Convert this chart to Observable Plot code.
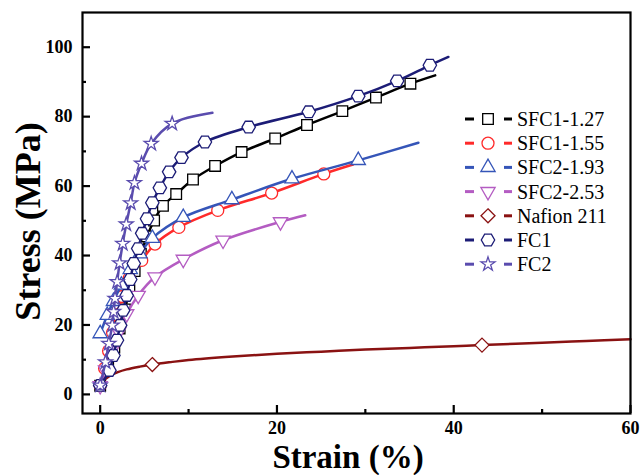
<!DOCTYPE html>
<html><head><meta charset="utf-8">
<script src="https://cdn.jsdelivr.net/npm/d3@7"></script>
<script src="https://cdn.jsdelivr.net/npm/@observablehq/plot@0.6"></script>
<style>body{margin:0;background:#fff}</style>
</head><body><div id="chart"></div>
<script>
// ---- data (strain %, stress MPa) ----
const seriesNames = ["SFC1-1.27", "SFC1-1.55", "SFC2-1.93", "SFC2-2.53", "Nafion 211", "FC1", "FC2"];
const seriesColors = ["#000000", "#ff2a2a", "#3555b8", "#b45cc2", "#8a1212", "#1c1c76", "#5a4cae"];
const xTitle = "Strain (%)";
const yTitle = "Stress (MPa)";

const sfc127Strain = [0, 0.9, 1.6, 2.2, 2.8, 3.3, 3.9, 4.6, 5.3, 6.1, 7.1, 8.6, 10.5, 13.0, 16.0, 19.8, 23.4, 27.4, 31.2, 35.1, 37.9];
const sfc127Stress = [2.5, 8, 13.5, 19, 24.5, 30, 35.5, 40.5, 45.5, 50.1, 54.3, 57.7, 61.9, 65.8, 69.8, 73.7, 77.6, 81.6, 85.5, 89.5, 91.9];

const sfc155Strain = [0, 0.5, 0.95, 1.4, 1.9, 2.5, 3.3, 4.7, 6.2, 8.9, 13.3, 19.4, 25.3, 28.6];
const sfc155Stress = [2.6, 7.5, 12.5, 17.8, 23, 28.2, 33.5, 38.6, 43.3, 48.1, 53.0, 58.0, 63.5, 66.2];

const sfc193Strain = [0, 0.8, 1.5, 2.4, 3.4, 4.5, 5.9, 9.4, 14.9, 21.7, 29.2, 36.0];
const sfc193Stress = [17.5, 22.8, 26.8, 31.5, 36, 40.5, 45, 51, 56.1, 62.1, 67.4, 72.5];

const sfc253Strain = [0, 0.6, 1.3, 2.1, 3.0, 4.3, 6.2, 9.4, 13.9, 20.4, 23.2];
const sfc253Stress = [2.5, 7, 12.5, 18, 23.2, 28.5, 33.8, 38.9, 44.4, 49.7, 51.6];

const nafionStrain = [0, 0.5, 1, 2, 3, 4.5, 5.9, 8, 10, 15, 20, 25, 30, 35, 40, 43.2, 50, 55, 60];
const nafionStress = [3, 4.3, 5.2, 6.4, 7.2, 8, 8.6, 9.3, 9.9, 10.9, 11.7, 12.3, 12.9, 13.4, 13.9, 14.2, 14.9, 15.4, 15.9];
const nafionMarkerIndex = [6, 15];

const fc1Strain = [0, 1.05, 1.5, 1.9, 2.26, 2.6, 3.0, 3.4, 3.8, 4.3, 4.75, 5.3, 5.9, 6.75, 7.8, 9.2, 11.85, 16.8, 23.6, 29.2, 33.6, 37.3, 39.4];
const fc1Stress = [2.6, 6.9, 11.2, 15.6, 19.9, 24.2, 28.5, 33.1, 37.7, 42, 46.4, 50.6, 55.2, 59.5, 64.1, 68.2, 72.7, 77.0, 81.4, 85.9, 90.3, 94.8, 97.2];

const fc2Strain = [0, 0.6, 0.98, 1.36, 1.52, 1.68, 1.92, 2.2, 2.55, 2.95, 3.45, 3.88, 4.68, 5.77, 8.14, 12.7];
const fc2Stress = [2.6, 9.3, 14.6, 19.9, 23.8, 27.6, 32.4, 37.8, 43.4, 49, 55.1, 60.9, 66.5, 72.2, 78.0, 81.1];

const yTicks = [0, 20, 40, 60, 80, 100];
const yMinorTicks = [10, 30, 50, 70, 90];
const xTicks = [0, 20, 40, 60];
const xMinorTicks = [10, 30, 50];

// ---- symbols ----
const hexagon = {draw(ctx, size) {
  const r = Math.sqrt(size / Math.PI);
  for (let i = 0; i < 6; i++) {
    const a = Math.PI / 3 * i;
    const x = r * Math.cos(a), y = r * Math.sin(a);
    i ? ctx.lineTo(x, y) : ctx.moveTo(x, y);
  }
  ctx.closePath();
}};
const triangleDown = {draw(ctx, size) {
  const s = Math.sqrt(size * 4 / Math.sqrt(3));
  const h = s * Math.sqrt(3) / 2;
  ctx.moveTo(-s / 2, -h / 3);
  ctx.lineTo(s / 2, -h / 3);
  ctx.lineTo(0, 2 * h / 3);
  ctx.closePath();
}};
const symbolByName = {square: d3.symbolSquare, circle: d3.symbolCircle, triangle: d3.symbolTriangle,
  triangleDown: triangleDown, diamond2: d3.symbolDiamond2, hexagon: hexagon, star: d3.symbolStar};

const seriesDefs = [
  {strain: sfc127Strain, stress: sfc127Stress, symbol: "square", r: 6},
  {strain: sfc155Strain, stress: sfc155Stress, symbol: "circle", r: 6},
  {strain: sfc193Strain, stress: sfc193Stress, symbol: "triangle", r: 5.3},
  {strain: sfc253Strain, stress: sfc253Stress, symbol: "triangleDown", r: 5.3},
  {strain: nafionStrain, stress: nafionStress, symbol: "diamond2", r: 6.3, markers: nafionMarkerIndex},
  {strain: fc1Strain, stress: fc1Stress, symbol: "hexagon", r: 6.7},
  {strain: fc2Strain, stress: fc2Stress, symbol: "star", r: 4.4}
];

const rows = [];
seriesDefs.forEach((s, si) => {
  s.strain.forEach((x, i) => {
    const marker = s.markers ? s.markers.includes(i) : i < s.strain.length - 1;
    rows.push({series: seriesNames[si], si, strain: x, stress: s.stress[i], marker});
  });
});

const marks = [];
seriesDefs.forEach((s, si) => {
  const data = rows.filter(d => d.si === si);
  marks.push(Plot.line(data, {x: "strain", y: "stress", stroke: seriesColors[si], strokeWidth: 2.5, curve: "catmull-rom"}));
  marks.push(Plot.dot(data.filter(d => d.marker), {x: "strain", y: "stress", symbol: symbolByName[s.symbol], r: s.r,
    stroke: seriesColors[si], fill: "white", strokeWidth: 1.3}));
});

const W = 641, H = 475, mL = 82, mR = 11, mT = 12, mB = 62;
const plot = Plot.plot({
  width: W, height: H,
  marginLeft: mL, marginRight: mR, marginTop: mT, marginBottom: mB,
  style: {fontFamily: "'Liberation Serif', 'Times New Roman', serif", background: "white", color: "black"},
  x: {domain: [-2, 60]},
  y: {domain: [-5.5, 110]},
  marks: [
    ...marks,
    Plot.frame({stroke: "black", strokeWidth: 2.2}),
    Plot.axisY(yTicks, {tickSize: 0, tickPadding: 10, fontSize: 18, fontWeight: "bold", label: null}),
    Plot.axisY(yTicks, {tickSize: -8, text: null, strokeWidth: 2.2, label: null}),
    Plot.axisY(yMinorTicks, {tickSize: -4, text: null, strokeWidth: 2.2, label: null}),
    Plot.axisX(xTicks, {tickSize: 0, tickPadding: 8, fontSize: 18, fontWeight: "bold", label: null}),
    Plot.axisX(xTicks, {tickSize: -8, text: null, strokeWidth: 2.2, label: null}),
    Plot.axisX(xMinorTicks, {tickSize: -4, text: null, strokeWidth: 2.2, label: null})
  ]
});
document.getElementById("chart").appendChild(plot);

const svg = d3.select(plot);
const serif = "'Liberation Serif', 'Times New Roman', serif";
// axis titles
svg.append("text").attr("x", (mL + W - mR) / 2 - 8).attr("y", 468)
  .attr("text-anchor", "middle").attr("font-family", serif).attr("font-weight", "bold")
  .attr("font-size", 33).attr("fill", "black").text(xTitle);
svg.append("text").attr("transform", `translate(40,${(mT + H - mB) / 2 + 9}) rotate(-90)`)
  .attr("text-anchor", "middle").attr("font-family", serif).attr("font-weight", "bold")
  .attr("font-size", 36).attr("fill", "black").text(yTitle);

// legend (inside plot, right side)
const lg = svg.append("g").attr("transform", "translate(465,119)");
seriesNames.forEach((name, i) => {
  const g = lg.append("g").attr("transform", `translate(0,${i * 24.2})`);
  const c = seriesColors[i], s = seriesDefs[i];
  g.append("line").attr("x1", 0).attr("x2", 9).attr("y1", 0).attr("y2", 0).attr("stroke", c).attr("stroke-width", 3);
  g.append("line").attr("x1", 39).attr("x2", 47).attr("y1", 0).attr("y2", 0).attr("stroke", c).attr("stroke-width", 3);
  g.append("path").attr("transform", "translate(23,0)")
    .attr("d", d3.symbol(symbolByName[s.symbol], Math.PI * s.r * s.r)())
    .attr("fill", "white").attr("stroke", c).attr("stroke-width", 1.3);
  g.append("text").attr("x", 52).attr("y", 7).attr("font-size", 20).attr("text-anchor", "start")
    .attr("font-family", serif).attr("fill", "black").text(name);
});
</script>
</body></html>
